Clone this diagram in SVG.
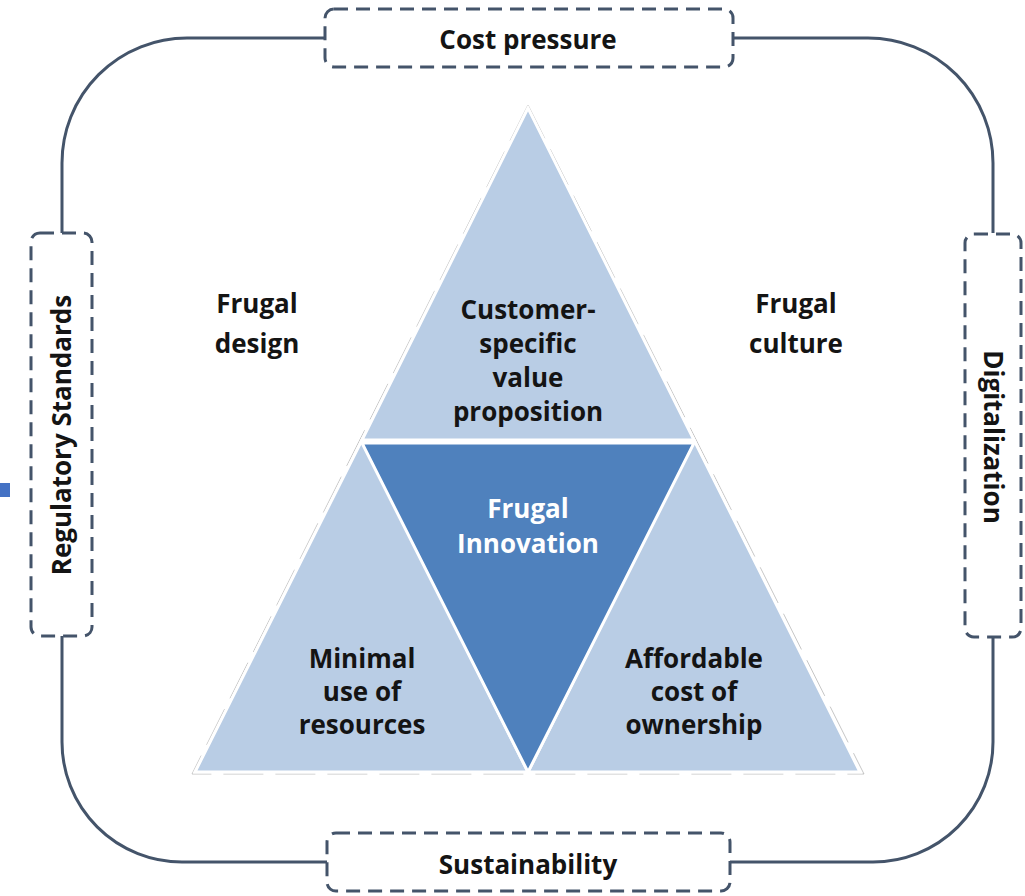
<svg xmlns="http://www.w3.org/2000/svg" width="1025" height="896" viewBox="0 0 1025 896">
<style>
.lbl{font-family:"Open Sans","Liberation Sans",sans-serif;font-weight:700;font-size:26px;fill:#141414;text-anchor:middle}
.wht{fill:#ffffff}
.box{fill:#ffffff;stroke:#44546a;stroke-width:3;stroke-dasharray:14 8}
.conn{fill:none;stroke:#44546a;stroke-width:3}
.lt{fill:#b9cde5;stroke:#ffffff;stroke-width:3;stroke-linejoin:miter}
.dk{fill:#4f81bd;stroke:#ffffff;stroke-width:3}
</style>
<rect width="1025" height="896" fill="#ffffff"/>
<g id="connectors">
<path class="conn" d="M325 38 H187 A125 125 0 0 0 62 163 V233"/>
<path class="conn" d="M62 636 V742 A120 120 0 0 0 182 862 H327"/>
<path class="conn" d="M730 862 H873 A120 120 0 0 0 993 742 V637"/>
<path class="conn" d="M993 233 V163 A125 125 0 0 0 868 38 H733"/>
</g>
<rect x="0" y="483" width="10" height="14" fill="#4472c4"/>
<g id="triangle">
<polygon points="528,105 192,774 864,774" fill="none" stroke="#a0a0a0" stroke-width="1" stroke-opacity="0.6" stroke-dasharray="40 12"/>
<g id="top-triangle"><polygon class="lt" points="528,108 362,440 694,440"/>
<text class="lbl"><tspan x="528" y="319">Customer-</tspan><tspan x="528" y="353">specific</tspan><tspan x="528" y="387">value</tspan><tspan x="528" y="421">proposition</tspan></text></g>
<g id="left-triangle"><polygon class="lt" points="195,772 362,440 528,772"/>
<text class="lbl"><tspan x="362" y="668">Minimal</tspan><tspan x="362" y="701">use of</tspan><tspan x="362" y="734">resources</tspan></text></g>
<g id="right-triangle"><polygon class="lt" points="528,772 694,440 860,772"/>
<text class="lbl"><tspan x="694" y="668">Affordable</tspan><tspan x="694" y="701">cost of</tspan><tspan x="694" y="734">ownership</tspan></text></g>
<g id="center-triangle"><polygon class="dk" points="362,443 694,443 528,772"/>
<text class="lbl wht"><tspan x="528" y="518">Frugal</tspan><tspan x="528" y="553">Innovation</tspan></text></g>
</g>
<g id="frugal-design"><text class="lbl"><tspan x="257" y="313">Frugal</tspan><tspan x="257" y="353">design</tspan></text></g>
<g id="frugal-culture"><text class="lbl"><tspan x="796" y="313">Frugal</tspan><tspan x="796" y="353">culture</tspan></text></g>
<g id="cost-pressure"><rect class="box" x="325" y="9" width="408" height="58" rx="9"/><text class="lbl" x="528" y="49">Cost pressure</text></g>
<g id="sustainability"><rect class="box" x="327" y="833" width="403" height="58" rx="9"/><text class="lbl" x="528" y="874">Sustainability</text></g>
<g id="regulatory"><rect class="box" x="31" y="233" width="61" height="403" rx="9"/><text class="lbl" transform="translate(71 435) rotate(-90)" x="0" y="0">Regulatory Standards</text></g>
<g id="digitalization"><rect class="box" x="965" y="234" width="56" height="403" rx="9"/><text class="lbl" transform="translate(984 437) rotate(90)" x="0" y="0">Digitalization</text></g>
</svg>
